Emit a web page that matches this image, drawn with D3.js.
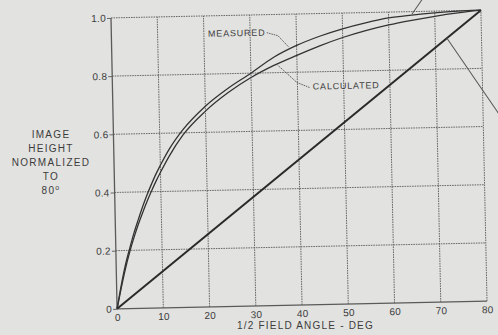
<!DOCTYPE html>
<html>
<head>
<meta charset="utf-8">
<script src="https://cdn.jsdelivr.net/npm/d3@7/dist/d3.min.js"></script>
<style>
  html, body { margin: 0; padding: 0; background: #e2e2e0; }
  svg { display: block; }
  text { font-family: "Liberation Sans", Arial, Helvetica, sans-serif; fill: #3c3c3c; }
</style>
</head>
<body>
<svg id="chart" width="498" height="335"></svg>
<script>
// ---- data ----
const angles     = [0, 1, 2, 3, 4, 5, 6, 7, 8, 9, 10, 12, 15, 20, 25, 30, 35, 40, 45, 50, 55, 60, 65, 70, 75, 80];
const measured   = [0, 0.08, 0.15, 0.207, 0.26, 0.306, 0.35, 0.39, 0.426, 0.46, 0.49, 0.545, 0.61, 0.69, 0.75, 0.80, 0.853, 0.892, 0.922, 0.946, 0.965, 0.98, 0.988, 0.994, 0.998, 1.0];
const calculated = [0, 0.072, 0.138, 0.195, 0.245, 0.29, 0.33, 0.368, 0.403, 0.436, 0.466, 0.522, 0.592, 0.673, 0.735, 0.785, 0.825, 0.858, 0.889, 0.916, 0.938, 0.956, 0.97, 0.982, 0.992, 1.0];
const linearAngles = [0, 80];
const linearValues = [0, 1.0];
const xTicks = [0, 10, 20, 30, 40, 50, 60, 70, 80];
const yTicks = [0, 0.2, 0.4, 0.6, 0.8, 1.0];
const yTickLabels = ["0", "0.2", "0.4", "0.6", "0.8", "1.0"];
const yTitleLines = ["IMAGE", "HEIGHT", "NORMALIZED", "TO", "80"];
const xTitle = "1/2 FIELD ANGLE - DEG";
const labelMeasured = "MEASURED";
const labelCalculated = "CALCULATED";

(function () {
// ---- layout ----
const svg = d3.select("#chart");
svg.append("rect").attr("width", 498).attr("height", 335).attr("fill", "#e2e2e0");

const pLeft = 114, pRight = 484, pTop = 14, pBottom = 305;
const x = d3.scaleLinear().domain([0, 80]).range([pLeft, pRight]);
const y = d3.scaleLinear().domain([0, 1]).range([pBottom, pTop]);

// the scanned page is slightly rotated
const g = svg.append("g").attr("transform", `rotate(-1.2, ${(pLeft + pRight) / 2}, ${(pTop + pBottom) / 2})`);

const gridColor = "#5a5a5a";
// grid
g.append("g").selectAll("line").data(xTicks).join("line")
  .attr("x1", d => x(d)).attr("x2", d => x(d))
  .attr("y1", y(0)).attr("y2", y(1))
  .attr("stroke", gridColor).attr("stroke-width", d => d === 0 ? 1.3 : 0.9)
  .attr("stroke-dasharray", d => d === 0 ? null : "1.6,0.9");
g.append("g").selectAll("line").data(yTicks).join("line")
  .attr("x1", x(0)).attr("x2", x(80))
  .attr("y1", d => y(d)).attr("y2", d => y(d))
  .attr("stroke", gridColor).attr("stroke-width", d => d === 0 ? 1.1 : 0.9)
  .attr("stroke-dasharray", d => d === 0 ? null : "1.6,0.9");

// axes
const yAxis = d3.axisLeft(y).tickValues(yTicks).tickSize(4).tickPadding(1)
  .tickFormat((d, i) => yTickLabels[i]);
const ya = g.append("g").attr("transform", `translate(${x(0)},0)`).call(yAxis);
ya.select(".domain").remove();
ya.selectAll(".tick line").attr("stroke", gridColor).attr("stroke-width", 0.9);
ya.selectAll(".tick text").attr("font-size", 10).attr("fill", "#444")
  .attr("font-family", "Liberation Sans, Arial, sans-serif").attr("letter-spacing", 0.3);

const xAxis = d3.axisBottom(x).tickValues(xTicks).tickSize(0).tickPadding(5).tickFormat(d3.format("d"));
const xa = g.append("g").attr("transform", `translate(0,${y(0)})`).call(xAxis);
xa.select(".domain").remove();
xa.selectAll(".tick text").attr("font-size", 10).attr("fill", "#444")
  .attr("font-family", "Liberation Sans, Arial, sans-serif").attr("letter-spacing", 0.3);

// curves
const line = d3.line().x(d => x(d[0])).y(d => y(d[1])).curve(d3.curveMonotoneX);
g.append("path").datum(d3.zip(angles, calculated)).attr("d", line)
  .attr("fill", "none").attr("stroke", "#333").attr("stroke-width", 1.3);
g.append("path").datum(d3.zip(angles, measured)).attr("d", line)
  .attr("fill", "none").attr("stroke", "#333").attr("stroke-width", 1.3);
g.append("path").datum(d3.zip(linearAngles, linearValues)).attr("d", d3.line().x(d => x(d[0])).y(d => y(d[1])))
  .attr("fill", "none").attr("stroke", "#2a2a2a").attr("stroke-width", 2);

// labels with leaders
const leader = d3.line().x(d => x(d[0])).y(d => y(d[1]));
g.append("text").attr("x", x(20.9)).attr("y", y(0.939)).attr("dy", "0.35em")
  .attr("font-size", 9).attr("letter-spacing", 0.8).text(labelMeasured);
g.append("path").datum([[33.6, 0.938], [36.0, 0.927], [38.3, 0.887]]).attr("d", leader)
  .attr("fill", "none").attr("stroke", "#555").attr("stroke-width", 0.9).attr("stroke-dasharray", "1.6,0.8");
g.append("text").attr("x", x(43.3)).attr("y", y(0.75)).attr("dy", "0.35em")
  .attr("font-size", 9).attr("letter-spacing", 0.8).text(labelCalculated);
g.append("path").datum([[42.6, 0.7466], [39.9, 0.7647], [35.8, 0.826]]).attr("d", leader)
  .attr("fill", "none").attr("stroke", "#555").attr("stroke-width", 0.9).attr("stroke-dasharray", "1.6,0.8");

// stray callout lines from the original page
g.append("path").datum([[65.1, 0.992], [68.2, 1.06]]).attr("d", leader)
  .attr("fill", "none").attr("stroke", "#555").attr("stroke-width", 1);
g.append("path").datum([[72.5, 0.907], [83.5, 0.64]]).attr("d", leader)
  .attr("fill", "none").attr("stroke", "#555").attr("stroke-width", 1);

// y title
const yt = svg.append("g");
yTitleLines.forEach((t, i) => {
  const tx = yt.append("text").attr("x", 51).attr("y", 134 + i * 14).attr("dy", "0.35em")
    .attr("text-anchor", "middle").attr("font-size", 10).attr("letter-spacing", 1.3).text(t);
  if (i === yTitleLines.length - 1) {
    tx.append("tspan").attr("font-size", 7).attr("dy", "-0.5em").text("o");
  }
});

// x title
svg.append("text").attr("x", 237).attr("y", 325).attr("dy", "0.35em")
  .attr("font-size", 10).attr("letter-spacing", 1.2).text(xTitle);
})();
</script>
</body>
</html>
